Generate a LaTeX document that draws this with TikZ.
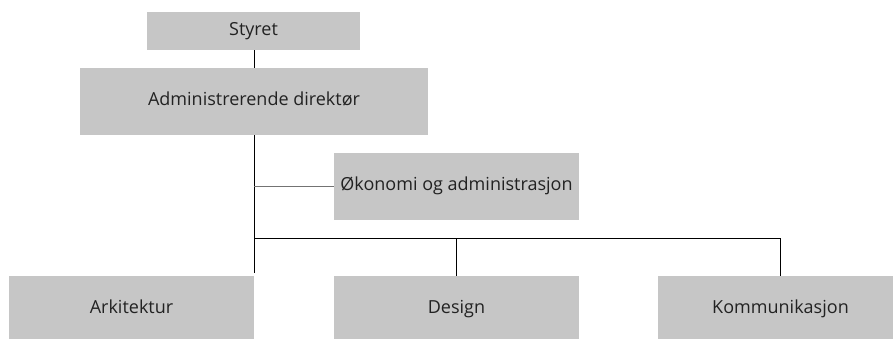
\documentclass[tikz,border=0pt]{standalone}
\usepackage{fontspec}
\setmainfont{Open Sans}
\usetikzlibrary{positioning}
\definecolor{boxgray}{HTML}{C6C6C6}
\definecolor{txtgray}{HTML}{222222}
\tikzset{
  enhet/.style={
    rectangle,
    fill=boxgray,
    text=txtgray,
    inner sep=0pt,
    text height=1.0em, text depth=0.18em,
    font=\fontsize{18}{20}\selectfont},
  liten/.style={enhet, minimum width=213pt, minimum height=38pt},
  stor/.style={enhet, minimum width=348pt, minimum height=67pt},
  avd/.style={enhet, minimum width=245pt, minimum height=67pt},
  line/.style={draw, line width=1pt, black},
  gline/.style={draw, line width=1pt, black!55},
}

\begin{document}
\begin{tikzpicture}[x=1pt,y=-1pt]

      \clip (0,0) rectangle (893,338);
      \fill[white] (0,0) rectangle (893,338);

      \node[liten] (styret) at (253.5,31) {Styret};
      \node[stor] (adm) at (254,101.5) {Administrerende direktør};
      \node[avd] (okon) at (456.5,186.5) {Økonomi og administrasjon};

      \node[avd] (ark) at (131.5,309.5) {Arkitektur};
      \node[avd] (design) at (456.5,309.5) {Design};
      \node[avd] (komm) at (780.5,309.5) {Kommunikasjon};

      \coordinate (bus) at (254,238);

      \path[line] (styret.south -| adm.north) -- (adm.north);
      \path[line, shorten >=3pt] (adm.south) -- (ark.north -| adm.south);
      \path[gline] (adm.south |- okon.west) -- (okon.west);
      \path[line] (bus) -| (design.north);
      \path[line] (bus) -| (komm.north);

    \end{tikzpicture}
\end{document}
